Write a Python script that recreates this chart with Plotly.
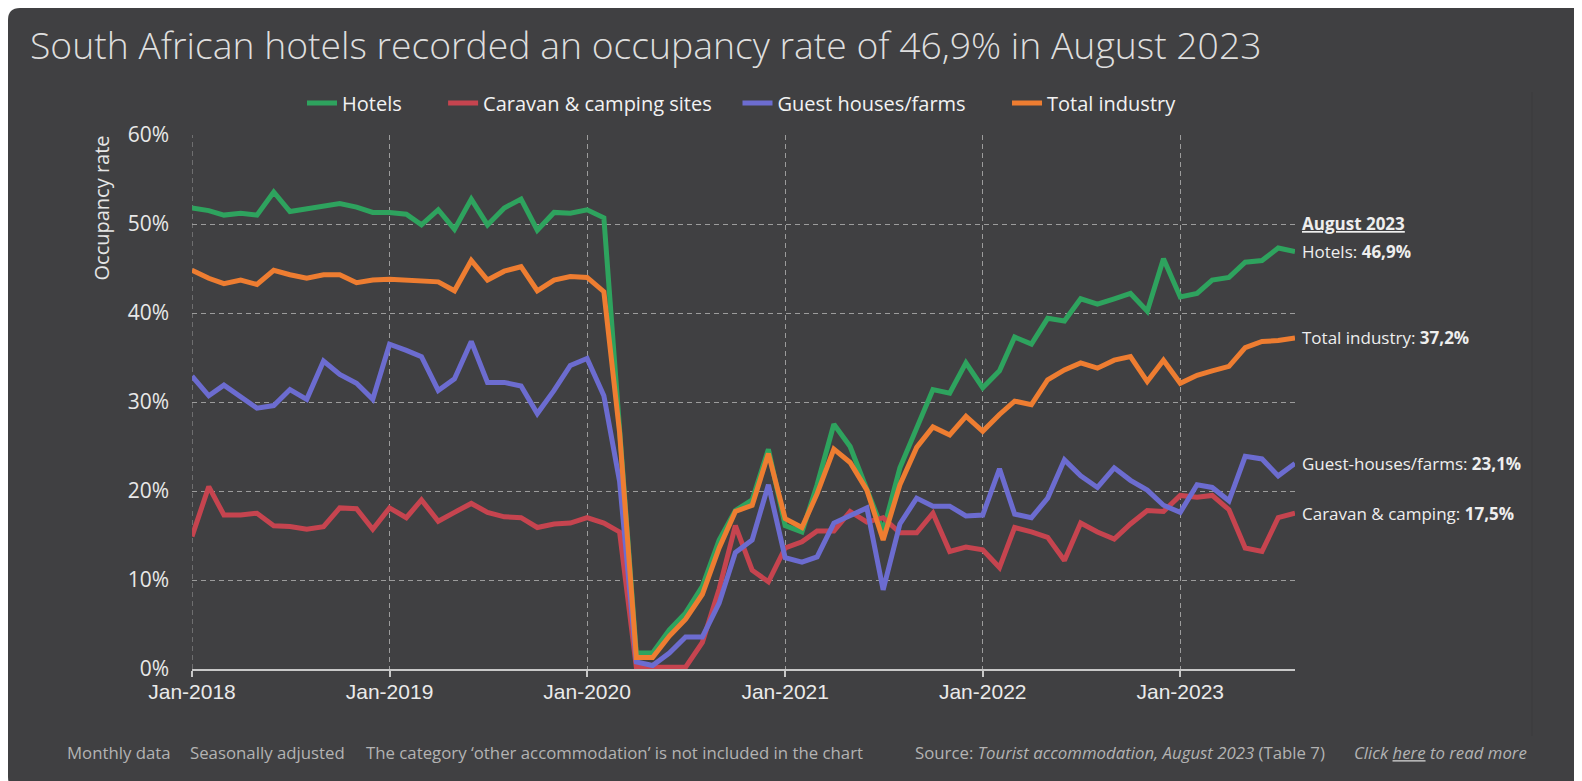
import pandas as pd
import plotly.graph_objects as go

# ---------------- data ----------------
months = pd.date_range("2018-01-01", "2023-08-01", freq="MS")

hotels = [
    51.8, 51.5, 51.0, 51.2, 51.0, 53.6, 51.4, 51.7, 51.9, 52.3, 51.9, 51.3,
    51.3, 51.1, 49.9, 51.6, 49.4, 52.8, 49.9, 51.8, 52.8, 49.3, 51.3, 51.2,
    51.6, 50.7, 27.0, 1.8, 1.8, 4.4, 6.3, 9.3, 14.5, 17.8, 19.0, 24.7,
    16.1, 15.4, 20.7, 27.5, 25.0, 20.3, 15.5, 22.6, 27.2, 31.4, 31.0, 34.4,
    31.6, 33.5, 37.3, 36.5, 39.4, 39.1, 41.6, 41.0, 41.6, 42.2, 40.2, 46.1,
    41.8, 42.2, 43.7, 44.0, 45.7, 45.9, 47.3, 46.9,
]
caravan = [
    14.9, 20.5, 17.3, 17.3, 17.5, 16.1, 16.0, 15.7, 16.0, 18.1, 18.0, 15.7,
    18.1, 17.0, 19.0, 16.6, 17.6, 18.6, 17.6, 17.1, 17.0, 15.9, 16.3, 16.4,
    17.0, 16.4, 15.4, 0.2, 0.2, 0.2, 0.2, 3.0, 9.0, 16.1, 11.1, 9.8,
    13.6, 14.3, 15.5, 15.5, 17.7, 16.5, 17.0, 15.3, 15.3, 17.5, 13.2, 13.7,
    13.4, 11.4, 15.9, 15.4, 14.8, 12.2, 16.4, 15.4, 14.6, 16.3, 17.8, 17.7,
    19.5, 19.3, 19.5, 17.9, 13.6, 13.2, 17.0, 17.5,
]
guest = [
    32.9, 30.7, 31.9, 30.6, 29.3, 29.6, 31.4, 30.3, 34.6, 33.1, 32.1, 30.3,
    36.5, 35.8, 35.1, 31.3, 32.6, 36.8, 32.2, 32.2, 31.8, 28.7, 31.3, 34.1,
    34.9, 30.7, 21.1, 0.8, 0.4, 1.8, 3.6, 3.6, 7.4, 13.1, 14.5, 20.7,
    12.5, 12.0, 12.6, 16.4, 17.3, 18.1, 8.9, 16.3, 19.2, 18.3, 18.3, 17.2,
    17.3, 22.5, 17.4, 17.0, 19.2, 23.5, 21.7, 20.4, 22.6, 21.2, 20.1, 18.4,
    17.6, 20.7, 20.4, 18.9, 23.9, 23.6, 21.7, 23.1,
]
total = [
    44.8, 43.9, 43.3, 43.7, 43.2, 44.8, 44.3, 43.9, 44.3, 44.3, 43.4, 43.7,
    43.8, 43.7, 43.5, 43.5, 42.5, 45.9, 43.7, 44.7, 45.2, 42.5, 43.7, 44.1,
    44.0, 42.4, 26.6, 1.3, 1.3, 3.7, 5.6, 8.4, 13.6, 17.7, 18.4, 24.2,
    16.9, 15.9, 19.7, 24.7, 23.2, 20.1, 14.5, 20.7, 24.9, 27.2, 26.3, 28.4,
    26.7, 28.6, 30.1, 29.7, 32.5, 33.6, 34.4, 33.8, 34.7, 35.1, 32.3, 34.7,
    32.1, 33.0, 33.5, 34.0, 36.1, 36.8, 36.9, 37.2,
]

series_names = ["Hotels", "Caravan & camping sites", "Guest houses/farms", "Total industry"]
series_values = [hotels, caravan, guest, total]
series_colors = ["#2ea35e", "#c6444f", "#6c6cd0", "#ee7d31"]
legend_pad = [7, 4, 7, 0]  # trailing spacing in legend entries

end_labels = ["Hotels: ", "Caravan & camping: ", "Guest-houses/farms: ", "Total industry: "]
end_values_text = ["46,9%", "17,5%", "23,1%", "37,2%"]

year_ticks = pd.to_datetime(["2018-01-01", "2019-01-01", "2020-01-01",
                             "2021-01-01", "2022-01-01", "2023-01-01"])
y_ticks = [0, 10, 20, 30, 40, 50, 60]
y_tick_text = ["0%", "10%", "20%", "30%", "40%", "50%", "60%"]

# ---------------- layout geometry ----------------
W, H = 1582, 781
L, R, T, B = 184, 1287, 127, 661
BG = "#404042"
GRID = "#9c9c9c"


def px(xp):
    return (xp - L) / (R - L)


def py(yp):
    return (B - yp) / (B - T)


fig = go.Figure()
for name, vals, col, pad in zip(series_names, series_values, series_colors, legend_pad):
    fig.add_trace(go.Scatter(
        x=months, y=vals, name=name + "\u00a0" * pad, mode="lines",
        line=dict(color=col, width=5),
    ))

# rounded card background
x0, x1, y0, y1, r = 0, W, 0, H, 12
path = (
    f"M {px(x0 + r)},{py(y0)} L {px(x1 - r)},{py(y0)} "
    f"Q {px(x1)},{py(y0)} {px(x1)},{py(y0 + r)} "
    f"L {px(x1)},{py(y1)} L {px(x0 + r)},{py(y1)} "
    f"Q {px(x0)},{py(y1)} {px(x0)},{py(y1 - r)} "
    f"L {px(x0)},{py(y0 + r)} Q {px(x0)},{py(y0)} {px(x0 + r)},{py(y0)} Z"
)
shapes = [
    dict(type="path", path=path, xref="paper", yref="paper",
         fillcolor=BG, line=dict(width=0), layer="below"),
    dict(type="line", xref="paper", yref="paper",
         x0=px(1524), x1=px(1524), y0=py(84), y1=py(728),
         line=dict(color="#3b3b3d", width=1), layer="below"),
    # left-edge vertical gridline at the first January
    dict(type="line", xref="x", yref="paper", x0=months[0], x1=months[0],
         y0=0, y1=1, line=dict(color=GRID, width=1, dash="5px,4px"), layer="below"),
]

annotations = []
# y-axis title
annotations.append(dict(
    text="Occupancy rate", xref="paper", yref="paper",
    x=px(93), y=py(126), xanchor="center", yanchor="top",
    textangle=-90, showarrow=False,
    font=dict(family="Open Sans", size=20, color="#e6e6e6"),
))
# end-of-line labels
last_x = months[-1]
for lab, vals, vtxt in zip(end_labels, series_values, end_values_text):
    annotations.append(dict(
        text=f"{lab}<b>{vtxt}</b>", x=last_x, y=vals[-1],
        xref="x", yref="y", xanchor="left", yanchor="middle",
        xshift=5, showarrow=False,
        font=dict(family="Open Sans", size=17, color="#eeeeee"),
    ))
annotations.append(dict(
    text="<b><u>August 2023</u></b>", x=last_x, y=hotels[-1],
    xref="x", yref="y", xanchor="left", yanchor="middle",
    xshift=5, yshift=28, showarrow=False,
    font=dict(family="Open Sans", size=17, color="#eeeeee"),
))
# footer
footer_parts = [
    (57, "Monthly data"),
    (180, "Seasonally adjusted"),
    (356, "The category \u2018other accommodation\u2019 is not included in the chart"),
    (905, "Source: <i>Tourist accommodation, August 2023</i> (Table 7)"),
    (1344, "<i>Click <u>here</u> to read more</i>"),
]
for xpos, txt in footer_parts:
    annotations.append(dict(
        text=txt, xref="paper", yref="paper", x=px(xpos), y=py(744),
        xanchor="left", yanchor="middle", showarrow=False,
        font=dict(family="Open Sans", size=16.8, color="#b3b3b3"),
    ))

fig.update_layout(
    width=W, height=H,
    margin=dict(l=L, r=W - R, t=T, b=H - B, pad=0),
    paper_bgcolor="white",
    plot_bgcolor="rgba(0,0,0,0)",
    shapes=shapes,
    annotations=annotations,
    title=dict(
        text="South African hotels recorded an occupancy rate of 46,9% in August 2023",
        xref="container", yref="container", x=22 / W, y=1 - 37.5 / H,
        xanchor="left", yanchor="middle",
        font=dict(family="Open Sans", size=37.3, color="#dedede", weight=300),
    ),
    showlegend=True,
    legend=dict(
        orientation="h", xref="paper", yref="paper",
        x=px(734), y=py(95), xanchor="center", yanchor="middle",
        font=dict(family="Open Sans", size=20, color="#f2f2f2"),
        bgcolor="rgba(0,0,0,0)", itemwidth=30, tracegroupgap=0,
    ),
    xaxis=dict(
        type="date",
        range=[months[0], months[-1]],
        tickvals=year_ticks, tickformat="%b-%Y",
        ticks="outside", ticklen=6, tickcolor="#c8c8c8", tickwidth=1.5,
        ticklabelstandoff=-3,
        showline=True, linecolor="#c8c8c8", linewidth=1.5,
        showgrid=True, gridcolor=GRID, griddash="5px,4px", gridwidth=1,
        tickfont=dict(family="Liberation Sans", size=21, color="#eaeaea"),
        zeroline=False,
    ),
    yaxis=dict(
        range=[0, 60], tickvals=y_ticks, ticktext=y_tick_text,
        showgrid=True, gridcolor=GRID, griddash="5px,4px", gridwidth=1,
        showline=False, zeroline=False, ticks="",
        ticklabelstandoff=22,
        tickfont=dict(family="Open Sans", size=21, color="#e8e8e8"),
    ),
)

fig.write_html("out.html")
